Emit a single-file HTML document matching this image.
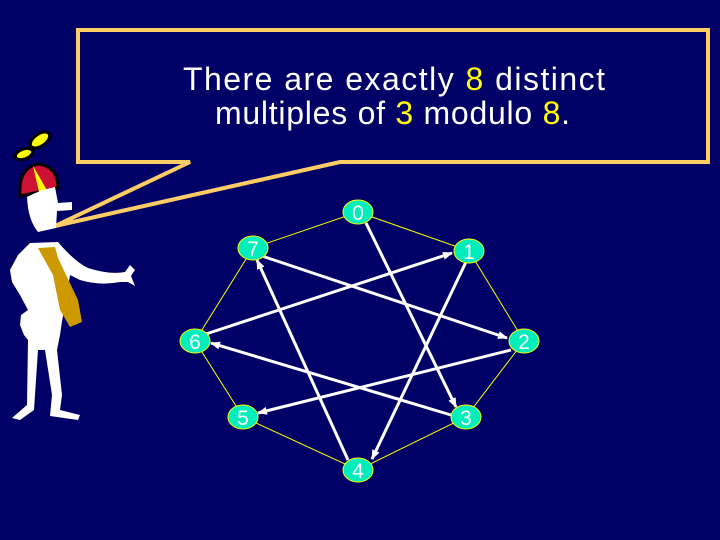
<!DOCTYPE html>
<html><head><style>
html,body{margin:0;padding:0;background:#000066;}
svg{display:block}
</style></head><body>
<svg width="720" height="540" viewBox="0 0 720 540" xmlns="http://www.w3.org/2000/svg">
<defs>
<marker id="ah" markerWidth="10" markerHeight="8" refX="9" refY="4" orient="auto" markerUnits="userSpaceOnUse">
<path d="M0,0 L10,4 L0,8 Z" fill="#fff"/>
</marker>
</defs>
<rect width="720" height="540" fill="#000066"/>
<polygon points="78,30 708,30 708,162 340,162 55,226 190,162 78,162" fill="#000066" stroke="#ffcc66" stroke-width="4" stroke-linejoin="miter"/>
<text x="183" y="90" textLength="422" lengthAdjust="spacing" font-family="Liberation Sans, sans-serif" font-size="32" fill="#fff">There are exactly <tspan fill="#ffff00">8</tspan> distinct</text>
<text x="215" y="124" textLength="355" lengthAdjust="spacing" font-family="Liberation Sans, sans-serif" font-size="32" fill="#fff">multiples of <tspan fill="#ffff00">3</tspan> modulo <tspan fill="#ffff00">8</tspan>.</text>
<polygon points="358,212 469,251 524,341 466,417 358,470 243,417 195,341 253,248" fill="none" stroke="#ffff00" stroke-width="1"/>
<g stroke="#fff" stroke-width="3" marker-end="url(#ah)">
<line x1="366" y1="223" x2="456" y2="407"/>
<line x1="466" y1="262" x2="372" y2="459"/>
<line x1="511" y1="350" x2="258" y2="413"/>
<line x1="451" y1="415" x2="211" y2="343"/>
<line x1="348" y1="460" x2="257" y2="260"/>
<line x1="206" y1="334" x2="452" y2="253"/>
<line x1="262" y1="256" x2="507" y2="338"/>
</g>
<g fill="#00eebb" stroke="#ffff00" stroke-width="1">
<ellipse cx="358" cy="212" rx="15" ry="12"/>
<ellipse cx="469" cy="251" rx="15" ry="12"/>
<ellipse cx="524" cy="341" rx="15" ry="12"/>
<ellipse cx="466" cy="417" rx="15" ry="12"/>
<ellipse cx="358" cy="470" rx="15" ry="12"/>
<ellipse cx="243" cy="417" rx="15" ry="12"/>
<ellipse cx="195" cy="341" rx="15" ry="12"/>
<ellipse cx="253" cy="248" rx="15" ry="12"/>
</g>
<g fill="#fff" font-family="Liberation Sans, sans-serif" font-size="21" text-anchor="middle">
<text x="358" y="220">0</text><text x="469" y="259">1</text><text x="524" y="349">2</text>
<text x="466" y="425">3</text><text x="358" y="478">4</text><text x="243" y="425">5</text>
<text x="195" y="349">6</text><text x="253" y="256">7</text>
</g>
<g>
<ellipse cx="40" cy="140" rx="11" ry="6" transform="rotate(-35 40 140)" fill="#ffff00" stroke="#000" stroke-width="3"/>
<ellipse cx="24" cy="154" rx="9" ry="5" transform="rotate(-20 24 154)" fill="#ffff00" stroke="#000" stroke-width="3"/>
<path d="M20,196 Q18,168 38,164 Q58,166 58,188 Z" fill="#cc1133" stroke="#000" stroke-width="3"/>
<path d="M33,166 L40,196 L48,192 Z" fill="#ffff00"/>
<path d="M27,197 Q40,190 55,187 L58,203 L72,202 L72,210 L57,211 L56,228 L38,232 Q28,220 27,197 Z" fill="#fff"/>
<path d="M30,243 L58,242 Q75,262 88,268 Q110,275 125,272 L130,265 L135,270 L131,276 L135,286 L128,282 L120,282 Q100,286 80,280 L70,275 L65,305 Q62,320 60,335 L57,350 L62,395 L60,410 L80,415 L78,420 L50,416 L52,395 L45,350 L38,350 L34,410 L20,420 L12,418 L27,405 L28,340 L24,335 L22,330 L20,325 L21,315 L28,310 L20,295 L12,282 L10,270 L18,255 Z" fill="#fff"/>
<path d="M38,248 L55,247 L58,258 L78,300 L82,322 L70,327 L60,310 L53,275 Z" fill="#cc9900"/>
</g>
</svg>
</body></html>
